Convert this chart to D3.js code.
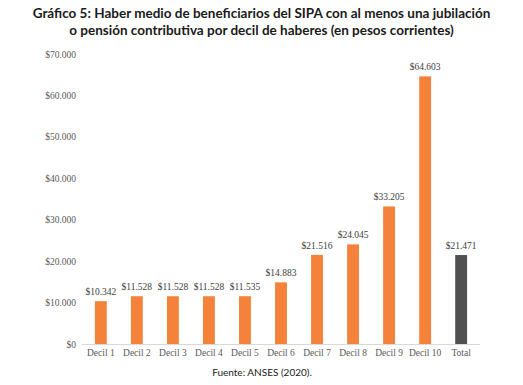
<!DOCTYPE html>
<html><head><meta charset="utf-8">
<script src="https://cdn.jsdelivr.net/npm/d3@7"></script>
<style>body{margin:0;background:#fff}</style>
</head><body>
<svg id="c" width="523" height="385"></svg>
<script>
const categories = ["Decil 1","Decil 2","Decil 3","Decil 4","Decil 5","Decil 6","Decil 7","Decil 8","Decil 9","Decil 10","Total"];
const values = [10342,11528,11528,11528,11535,14883,21516,24045,33205,64603,21471];
const valueLabels = ["$10.342","$11.528","$11.528","$11.528","$11.535","$14.883","$21.516","$24.045","$33.205","$64.603","$21.471"];
const yTicks = [0,10000,20000,30000,40000,50000,60000,70000];
const yTickLabels = ["$0","$10.000","$20.000","$30.000","$40.000","$50.000","$60.000","$70.000"];

const svg = d3.select("#c");
const x = d3.scaleBand().domain(categories).range([83,479]).paddingInner(0.67).paddingOuter(0.33);
const y = d3.scaleLinear().domain([0,70000]).range([344,54]);

svg.append("text").attr("x",261.5).attr("y",18).attr("text-anchor","middle")
  .attr("font-family","Lato, 'DejaVu Sans', sans-serif").attr("font-weight","bold").attr("font-size",13.5).attr("fill","#1a1a1a")
  .text("Gráfico 5: Haber medio de beneficiarios del SIPA con al menos una jubilación");
svg.append("text").attr("x",261.5).attr("y",35).attr("text-anchor","middle")
  .attr("font-family","Lato, 'DejaVu Sans', sans-serif").attr("font-weight","bold").attr("font-size",13.5).attr("fill","#1a1a1a")
  .text("o pensión contributiva por decil de haberes (en pesos corrientes)");

const yAxis = d3.axisLeft(y).tickValues(yTicks).tickFormat((d,i)=>yTickLabels[i]).tickSize(0).tickPadding(6);
const ga = svg.append("g").attr("transform","translate(82,0)").call(yAxis);
ga.select(".domain").remove();
ga.selectAll("text").attr("font-family","'Liberation Serif', serif").attr("font-size",9.5).attr("fill","#595959");

const xAxis = d3.axisBottom(x).tickSize(0).tickPadding(5);
const gx = svg.append("g").attr("transform","translate(0,344)").call(xAxis);
gx.select(".domain").attr("stroke","#d9d9d9").attr("d","M82,0.5H480");
gx.selectAll("text").attr("font-family","'Liberation Serif', serif").attr("font-size",9.5).attr("fill","#595959");

svg.selectAll("rect.bar").data(categories).enter().append("rect").attr("class","bar")
  .attr("x",d=>x(d)).attr("width",x.bandwidth())
  .attr("y",(d,i)=>y(values[i])).attr("height",(d,i)=>y(0)-y(values[i]))
  .attr("fill",(d,i)=>d==="Total"?"#505050":"#F4823B");

svg.selectAll("text.lbl").data(categories).enter().append("text").attr("class","lbl")
  .attr("x",d=>x(d)+x.bandwidth()/2).attr("y",(d,i)=>y(values[i])-6)
  .attr("text-anchor","middle").attr("font-family","'Liberation Serif', serif").attr("font-size",9.5).attr("fill","#404040")
  .text((d,i)=>valueLabels[i]);

svg.append("text").attr("x",262).attr("y",376).attr("text-anchor","middle")
  .attr("font-family","Lato, 'DejaVu Sans', sans-serif").attr("font-size",10).attr("fill","#1a1a1a")
  .text("Fuente: ANSES (2020).");
</script>
</body></html>
